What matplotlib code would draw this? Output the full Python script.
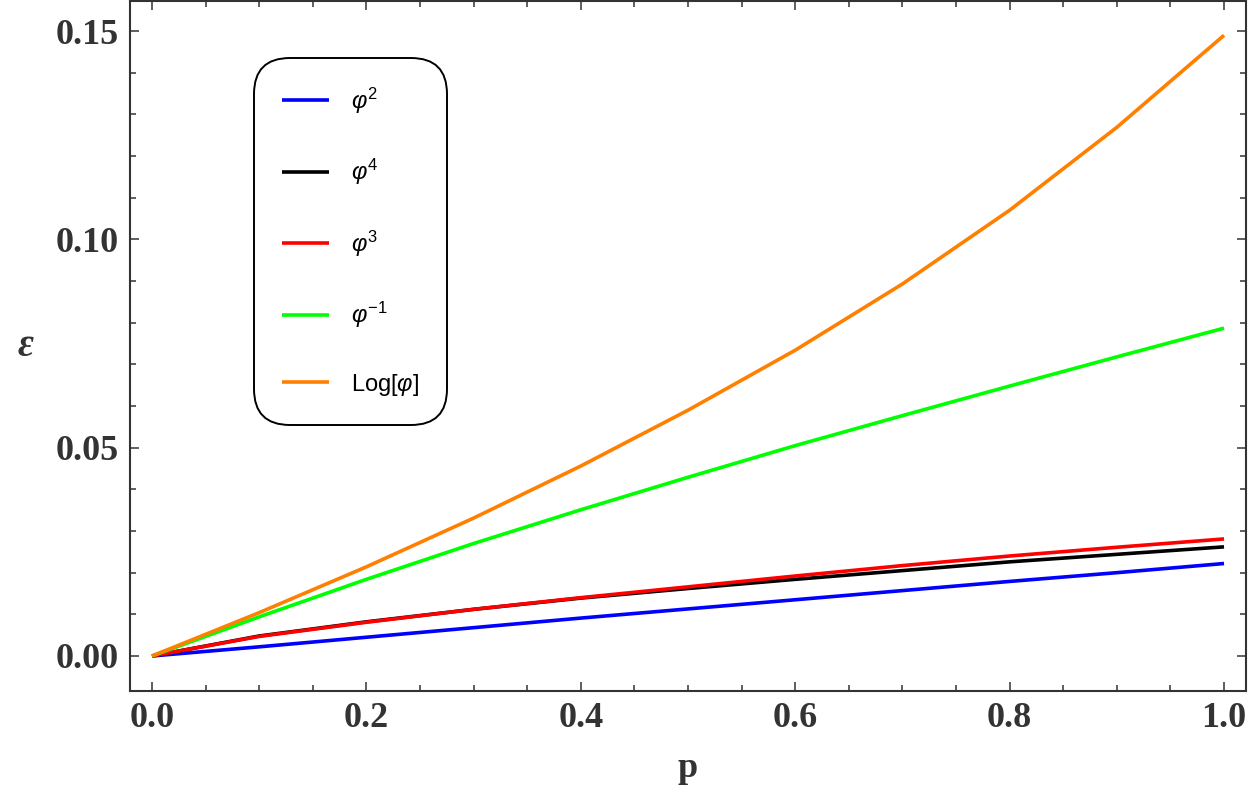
import matplotlib
matplotlib.use("Agg")
import matplotlib.pyplot as plt
from matplotlib.ticker import MultipleLocator

# Data
p = [0.0, 0.1, 0.2, 0.3, 0.4, 0.5, 0.6, 0.7, 0.8, 0.9, 1.0]
eps_phi2 = [0.0, 0.0022, 0.0045, 0.0068, 0.0091, 0.0113, 0.0135, 0.0157, 0.0179, 0.0200, 0.0222]
eps_phi4 = [0.0, 0.0048, 0.0082, 0.0112, 0.0139, 0.0162, 0.0184, 0.0205, 0.0226, 0.0244, 0.0262]
eps_phi3 = [0.0, 0.0047, 0.0081, 0.0112, 0.0140, 0.0166, 0.0192, 0.0217, 0.0240, 0.0261, 0.0281]
eps_phim1 = [0.0, 0.0094, 0.0184, 0.0270, 0.0351, 0.0429, 0.0505, 0.0577, 0.0648, 0.0718, 0.0787]
eps_log = [0.0, 0.0104, 0.0214, 0.0331, 0.0456, 0.0590, 0.0734, 0.0893, 0.1070, 0.1269, 0.149]

labels = [r"$\varphi^2$", r"$\varphi^4$", r"$\varphi^3$", r"$\varphi^{-1}$", r"Log[$\varphi$]"]
colors = ["#0000ff", "#000000", "#ff0000", "#00ff00", "#ff8000"]

plt.rcParams["mathtext.fontset"] = "custom"
plt.rcParams["mathtext.rm"] = "Liberation Sans"
plt.rcParams["mathtext.it"] = "Liberation Sans:italic"

fig = plt.figure(figsize=(12.5, 7.98), dpi=100)
ax = fig.add_axes([0.104, 0.1341, 0.8928, 0.8645])

series = [eps_phi2, eps_phi4, eps_phi3, eps_phim1, eps_log]
for ys, lab, col in zip(series, labels, colors):
    ax.plot(p, ys, color=col, lw=2.6, label=lab, solid_capstyle="butt", solid_joinstyle="round")

ax.set_xlim(-0.0205, 1.0205)
ax.set_ylim(-0.0084, 0.1572)

ax.xaxis.set_major_locator(MultipleLocator(0.2))
ax.xaxis.set_minor_locator(MultipleLocator(0.05))
ax.yaxis.set_major_locator(MultipleLocator(0.05))
ax.yaxis.set_minor_locator(MultipleLocator(0.01))
ax.xaxis.set_major_formatter(plt.FuncFormatter(lambda v, _: f"{v:.1f}"))
ax.yaxis.set_major_formatter(plt.FuncFormatter(lambda v, _: f"{v:.2f}"))

axcol = "#333333"
for s in ax.spines.values():
    s.set_color(axcol)
    s.set_linewidth(1.5)
ax.tick_params(which="both", direction="in", top=True, right=True, color=axcol, width=1.1)
ax.tick_params(which="major", length=6.5, pad=8)
ax.tick_params(which="minor", length=4)
for lbl in ax.get_xticklabels() + ax.get_yticklabels():
    lbl.set_fontfamily("Liberation Serif")
    lbl.set_fontweight("bold")
    lbl.set_fontsize(26)
    lbl.set_color(axcol)

ax.set_xlabel("p", fontfamily="Liberation Serif", fontweight="bold", fontsize=26, color=axcol, labelpad=12)
ax.set_ylabel("ε", fontfamily="Liberation Serif", fontstyle="italic", fontweight="bold",
              fontsize=28, color=axcol, rotation=0, va="center", ha="center")
ax.yaxis.set_label_coords(-0.094, 0.5)

leg = ax.legend(loc="upper left", bbox_to_anchor=(0.1115, 0.917), prop={"family": "Liberation Sans", "size": 17},
                handlelength=2.0, handletextpad=0.95, labelspacing=1.75, borderpad=1.15,
                borderaxespad=0, fancybox=True, framealpha=1, edgecolor="black")
leg.get_frame().set_linewidth(1.4)
leg.get_frame().set_boxstyle("round,pad=0,rounding_size=1.5")
for line in leg.get_lines():
    line.set_linewidth(2.6)

fig.savefig("out.png", dpi=100)
